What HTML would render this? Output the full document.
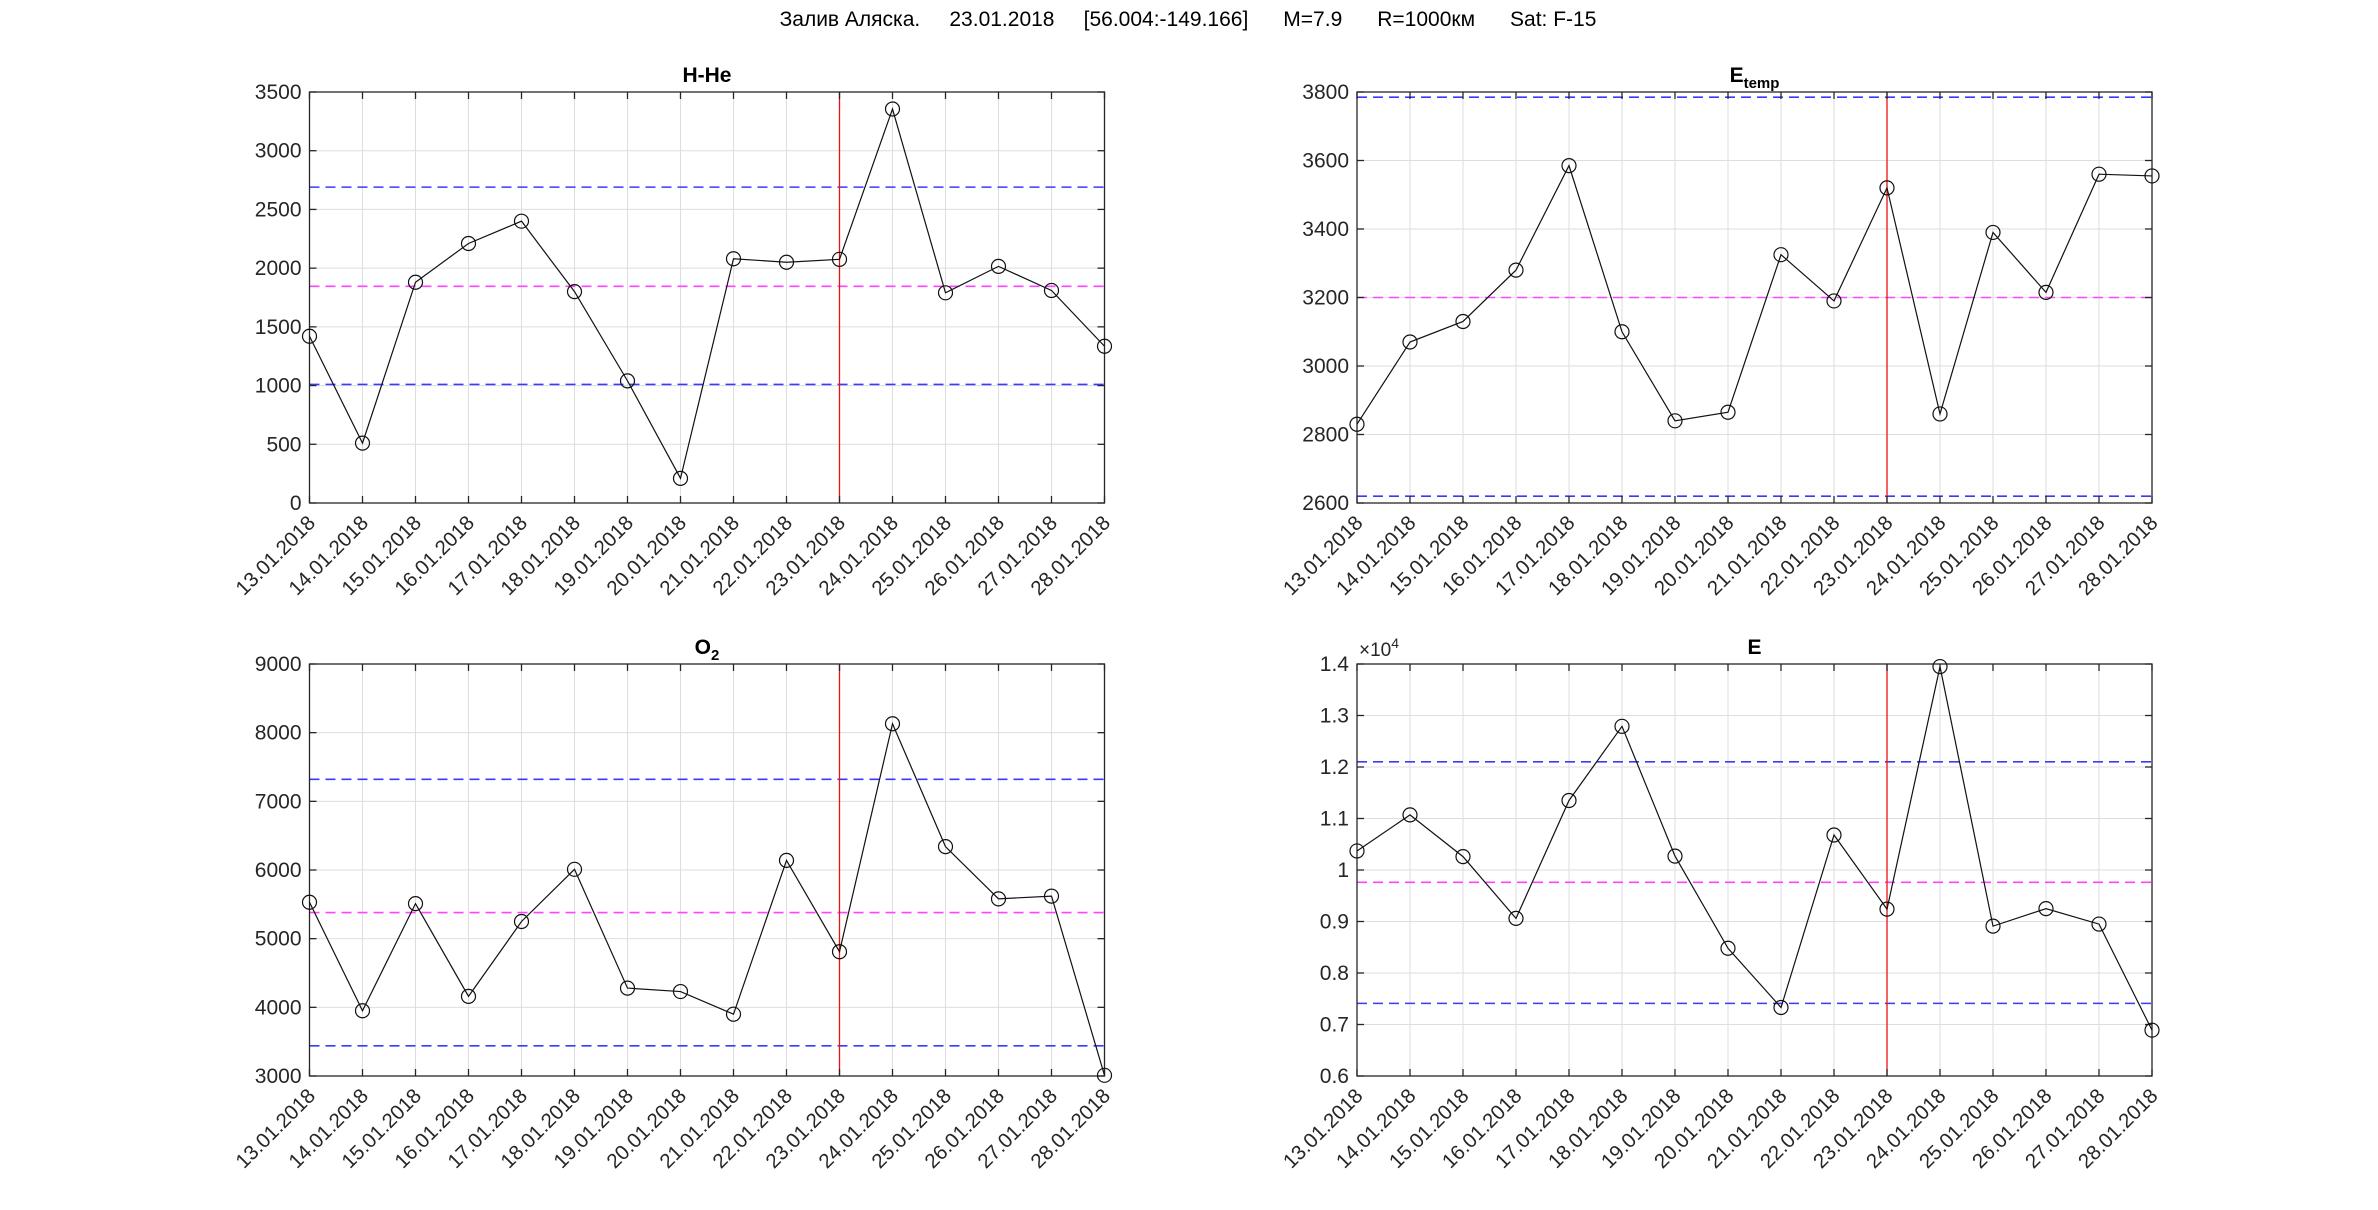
<!DOCTYPE html>
<html><head><meta charset="utf-8"><style>
html,body{margin:0;padding:0;background:#fff;}
svg{display:block;font-family:"Liberation Sans",sans-serif;}
</style></head><body>
<svg id="s" width="2378" height="1210" xmlns="http://www.w3.org/2000/svg">
<text x="1188" y="26" font-size="21" fill="#000" text-anchor="middle" style="white-space:pre" xml:space="preserve">Залив Аляска.     23.01.2018     [56.004:-149.166]      M=7.9      R=1000км      Sat: F-15</text>
</svg>
<script>
var s=document.getElementById('s'),NS='http://www.w3.org/2000/svg';
function el(t,a,txt){var e=document.createElementNS(NS,t);for(var k in a)e.setAttribute(k,a[k]);if(txt!=null)e.textContent=txt;s.appendChild(e);return e;}
var dates=[];for(var d=13;d<=28;d++)dates.push(d+'.01.2018');
var P=[
{x:309.5,y:92,h:411,min:0,max:3500,ticks:[0,500,1000,1500,2000,2500,3000,3500],lab:function(v){return ''+v},
 data:[1420,510,1880,2210,2400,1800,1040,210,2080,2050,2075,3355,1790,2015,1810,1335],
 lines:[[2690,'#3a3aff'],[1010,'#3a3aff'],[1845,'#ff44ff']],title:'H-He'},
{x:1357,y:92,h:411,min:2600,max:3800,ticks:[2600,2800,3000,3200,3400,3600,3800],lab:function(v){return ''+v},
 data:[2830,3070,3130,3280,3585,3100,2840,2865,3325,3190,3520,2860,3390,3215,3560,3555],
 lines:[[3785,'#3a3aff'],[2620,'#3a3aff'],[3200,'#ff44ff']],title:'Etemp'},
{x:309.5,y:664,h:412,min:3000,max:9000,ticks:[3000,4000,5000,6000,7000,8000,9000],lab:function(v){return ''+v},
 data:[5530,3950,5510,4160,5250,6010,4280,4230,3900,6140,4810,8130,6340,5580,5620,3010],
 lines:[[7320,'#3a3aff'],[3440,'#3a3aff'],[5380,'#ff44ff']],title:'O2'},
{x:1357,y:664,h:412,min:0.6,max:1.4,ticks:[0.6,0.7,0.8,0.9,1,1.1,1.2,1.3,1.4],lab:function(v){return v==1?'1':v.toFixed(1)},
 data:[1.037,1.107,1.026,0.906,1.135,1.279,1.027,0.848,0.733,1.068,0.924,1.395,0.891,0.925,0.895,0.689],
 lines:[[1.21,'#3a3aff'],[0.741,'#3a3aff'],[0.976,'#ff44ff']],title:'E'}
];
var W=795,dx=W/15;
P.forEach(function(p){
 var X=function(i){return p.x+i*dx},Y=function(v){return p.y+p.h-(v-p.min)/(p.max-p.min)*p.h};
 for(var i=0;i<16;i++)el('line',{x1:X(i),x2:X(i),y1:p.y,y2:p.y+p.h,stroke:'#dedede','stroke-width':1});
 p.ticks.forEach(function(t){el('line',{x1:p.x,x2:p.x+W,y1:Y(t),y2:Y(t),stroke:'#dedede','stroke-width':1});});
 p.lines.forEach(function(l){el('line',{x1:p.x,x2:p.x+W,y1:Y(l[0]),y2:Y(l[0]),stroke:l[1],'stroke-width':1.6,'stroke-dasharray':'10,6'});});
 el('line',{x1:X(10),x2:X(10),y1:p.y,y2:p.y+p.h,stroke:'#ee1111','stroke-width':1.3});
 el('rect',{x:p.x,y:p.y,width:W,height:p.h,fill:'none',stroke:'#262626','stroke-width':1.3});
 for(var i=0;i<16;i++){el('line',{x1:X(i),x2:X(i),y1:p.y+p.h,y2:p.y+p.h-7,stroke:'#262626','stroke-width':1.3});
  el('line',{x1:X(i),x2:X(i),y1:p.y,y2:p.y+7,stroke:'#262626','stroke-width':1.3});
  el('text',{x:0,y:0,'font-size':20.5,fill:'#262626','text-anchor':'end',transform:'translate('+(X(i)+7)+','+(p.y+p.h+21)+') rotate(-45)'},dates[i]);}
 p.ticks.forEach(function(t){
  el('line',{x1:p.x,x2:p.x+7,y1:Y(t),y2:Y(t),stroke:'#262626','stroke-width':1.3});
  el('line',{x1:p.x+W,x2:p.x+W-7,y1:Y(t),y2:Y(t),stroke:'#262626','stroke-width':1.3});
  el('text',{x:p.x-8,y:Y(t)+7,'font-size':21,fill:'#262626','text-anchor':'end'},p.lab(t));});
 var pts=p.data.map(function(v,i){return X(i)+','+Y(v)}).join(' ');
 el('polyline',{points:pts,fill:'none',stroke:'#111','stroke-width':1.2});
 p.data.forEach(function(v,i){el('circle',{cx:X(i),cy:Y(v),r:7,fill:'none',stroke:'#111','stroke-width':1.2});});
 var cx=p.x+W/2,ty=p.y-10;
 if(p.title=='Etemp'){var t=el('text',{x:cx,y:ty,'font-size':21,'font-weight':'bold','text-anchor':'middle'});t.innerHTML='E<tspan font-size="15" dy="6">temp</tspan>';}
 else if(p.title=='O2'){var t=el('text',{x:cx,y:ty,'font-size':21,'font-weight':'bold','text-anchor':'middle'});t.innerHTML='O<tspan font-size="15" dy="6">2</tspan>';}
 else el('text',{x:cx,y:ty,'font-size':21,'font-weight':'bold','text-anchor':'middle'},p.title);
 if(p.title=='E'){var t=el('text',{x:p.x+2,y:p.y-8,'font-size':19,fill:'#262626'});t.innerHTML='×10<tspan font-size="14" dy="-8">4</tspan>';}
});
</script>
</body></html>
